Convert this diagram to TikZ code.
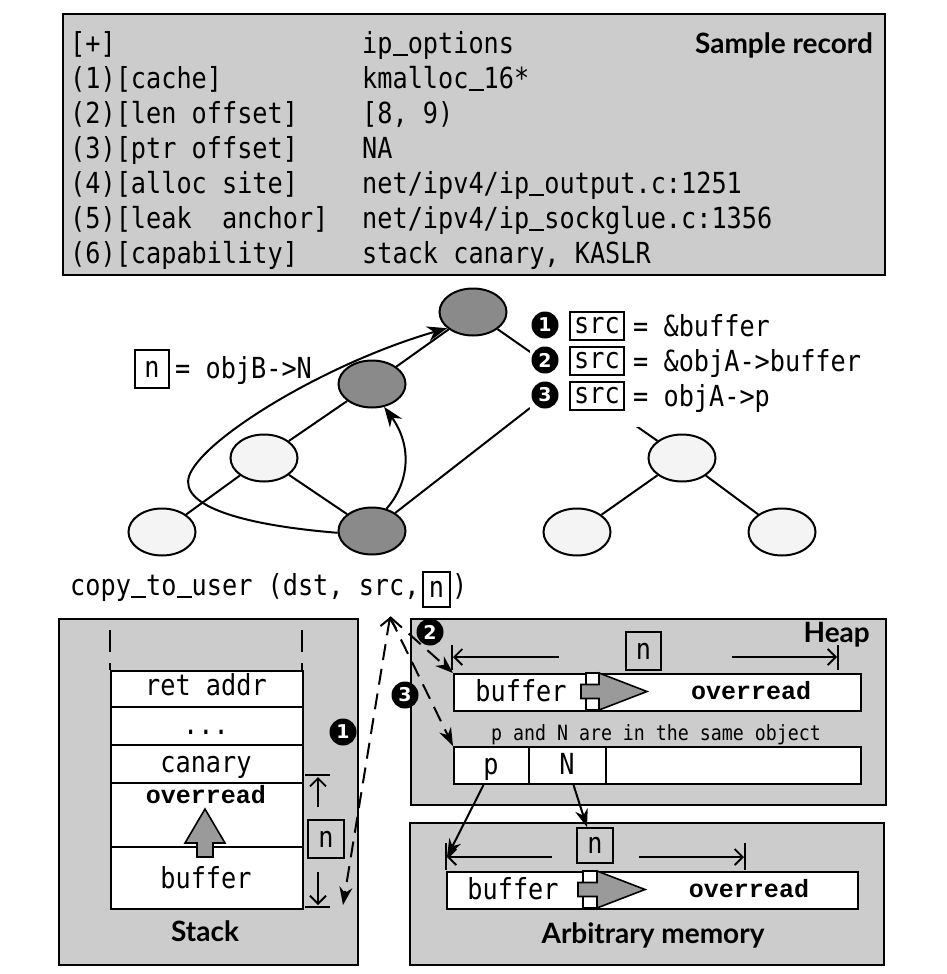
\documentclass[tikz,border=0pt]{standalone}
\usepackage{fontspec}
\usetikzlibrary{arrows.meta,shapes.geometric}
\newfontfamily\monoFam[FakeStretch=0.87]{DejaVu Sans Mono}
\newfontfamily\cmonoFam{Liberation Mono}
\newfontfamily\titleFam{Lato}
\newfontfamily\numFam{DejaVu Sans}
\def\myMono{\monoFam\fontsize{29}{35}\selectfont}
\def\mySmallMono{\monoFam\fontsize{21}{25}\selectfont}
\def\myBold{\cmonoFam\bfseries\fontsize{25}{30}\selectfont}
\def\myTitle{\titleFam\bfseries\fontsize{28}{32}\selectfont}
\def\myNum{\numFam\bfseries\fontsize{19}{19}\selectfont}
\def\us{\rule[-2.5pt]{15.19pt}{1.8pt}}
\definecolor{panel}{HTML}{CCCCCC}
\definecolor{darknode}{HTML}{8A8A8A}
\definecolor{lightnode}{HTML}{F4F4F4}
\definecolor{fatarrow}{HTML}{9A9A9A}
\begin{document}
\begin{tikzpicture}[x=1pt,y=-1pt,
  panelbox/.style={draw=black, line width=2.4pt, fill=panel},
  cellbox/.style={draw=black, line width=2pt, fill=white, inner sep=0pt, anchor=north west},
  nbox/.style={draw=black, line width=1.8pt, inner sep=0pt, minimum width=34pt, minimum height=38pt, font=\myMono},
  darkn/.style={ellipse, draw=black, line width=2pt, fill=darknode, minimum width=67pt, minimum height=47pt, inner sep=0pt},
  lightn/.style={ellipse, draw=black, line width=2pt, fill=lightnode, minimum width=67pt, minimum height=47pt, inner sep=0pt},
  edge/.style={line width=2pt},
  curvarrow/.style={line width=2pt, -{Stealth[length=20pt,width=15pt]}},
  dimarrow/.style={line width=1.8pt, -{Straight Barb[length=8pt,width=16pt]}},
  tickline/.style={line width=1.8pt},
  dashline/.style={line width=2pt, dash pattern=on 16pt off 9pt},
  numc/.style={circle, fill=black, text=white, inner sep=0pt, minimum size=27pt, font=\myNum},
  mtext/.style={font=\myMono, inner sep=0pt},
  btext/.style={font=\myBold, inner sep=0pt},
  ttext/.style={font=\myTitle, inner sep=0pt},
  fatarr/.style={fill=fatarrow, draw=black, line width=1.6pt, line join=miter}
]
\useasboundingbox (0,0) rectangle (946,974);
\fill[white] (0,0) rectangle (946,974);

% ---------- top record box ----------
\draw[panelbox] (63,14) rectangle (885,275);
\node[mtext, anchor=base west] (r0a) at (70,53.5) {[+]};
\node[mtext, anchor=base west] (r0b) at (362,53.5) {ip\us{}options};
\node[ttext, anchor=base east] (rtitle) at (873,53.5) {Sample record};
\node[mtext, anchor=base west] (r1a) at (70,88.5) {(1)[cache]};
\node[mtext, anchor=base west] (r1b) at (362,88.5) {kmalloc\us{}16*};
\node[mtext, anchor=base west] (r2a) at (70,123.5) {(2)[len offset]};
\node[mtext, anchor=base west] (r2b) at (362,123.5) {[8, 9)};
\node[mtext, anchor=base west] (r3a) at (70,158.5) {(3)[ptr offset]};
\node[mtext, anchor=base west] (r3b) at (362,158.5) {NA};
\node[mtext, anchor=base west] (r4a) at (70,193.5) {(4)[alloc site]};
\node[mtext, anchor=base west] (r4b) at (362,193.5) {net/ipv4/ip\us{}output.c:1251};
\node[mtext, anchor=base west] (r5a) at (70,228.5) {(5)[leak\ \ anchor]};
\node[mtext, anchor=base west] (r5b) at (362,228.5) {net/ipv4/ip\us{}sockglue.c:1356};
\node[mtext, anchor=base west] (r6a) at (70,263.5) {(6)[capability]};
\node[mtext, anchor=base west] (r6b) at (362,263.5) {stack canary, KASLR};

% ---------- graph ----------
\coordinate (hid) at (530,408);
\node[darkn] (tn) at (473,312) {};
\node[darkn] (md) at (372,384) {};
\node[lightn] (ml) at (264,458) {};
\node[lightn] (bl) at (162,532) {};
\node[darkn] (bd) at (372,531) {};
\node[lightn] (rr) at (682,458) {};
\node[lightn] (rl) at (577,532) {};
\node[lightn] (rrr) at (782,532) {};
\draw[edge] (bl) -- (ml);
\draw[edge] (ml) -- (md);
\draw[edge] (md) -- (tn);
\draw[edge] (ml) -- (bd);
\draw[edge] (bd) -- (hid);
\draw[edge] (tn) -- (rr);
\draw[edge] (rr) -- (rl);
\draw[edge] (rr) -- (rrr);
\fill[white] (530,290) rectangle (917,427);

\draw[curvarrow] (bd.183) .. controls (230,524) and (172,502) .. (192,470)
   .. controls (214,432) and (330,362) .. (tn.212);
\draw[curvarrow] (bd.57) .. controls (410,482) and (412,445) .. (md.-62);

\node[nbox] (nlab) at (152,369) {n};
\node[mtext, anchor=base west] (nlabt) at (175,378) {= objB->N};

\node[numc] (c1) at (545,325) {1};
\node[nbox, minimum width=54pt, minimum height=28pt] (s1) at (597,326) {src};
\node[mtext, anchor=base west] (t1) at (633,336) {= \&buffer};
\node[numc] (c2) at (545,360) {2};
\node[nbox, minimum width=54pt, minimum height=28pt] (s2) at (597,361) {src};
\node[mtext, anchor=base west] (t2) at (633,371) {= \&objA->buffer};
\node[numc] (c3) at (545,395) {3};
\node[nbox, minimum width=54pt, minimum height=28pt] (s3) at (597,396) {src};
\node[mtext, anchor=base west] (t3) at (633,406) {= objA->p};

\node[mtext, anchor=base west] (cpy) at (70,595) {copy\us{}to\us{}user (dst, src,};
\node[nbox, minimum width=27pt, minimum height=35pt] (cpyn) at (436.5,589.5) {n};
\node[mtext, anchor=base west] (cpyc) at (452,595) {)};

% ---------- stack ----------
\draw[panelbox] (59,619) rectangle (358,965);
\draw[line width=2pt, dash pattern=on 22pt off 11pt] (110,630) -- (110,670);
\draw[line width=2pt, dash pattern=on 22pt off 11pt] (302,630) -- (302,670);
\node[cellbox, minimum width=192pt, minimum height=36pt] (sret) at (110,670) {};
\node[cellbox, minimum width=192pt, minimum height=38pt] (sdot) at (110,706) {};
\node[cellbox, minimum width=192pt, minimum height=38pt] (scan) at (110,744) {};
\node[cellbox, minimum width=192pt, minimum height=64pt] (sover) at (110,782) {};
\node[cellbox, minimum width=192pt, minimum height=62pt] (sbuf) at (110,846) {};
\node[mtext, anchor=base] (tret) at (206,695) {ret addr};
\node[mtext, anchor=base] (tdot) at (206,734) {...};
\node[mtext, anchor=base] (tcan) at (206,772) {canary};
\node[btext, anchor=base] (tover) at (206,803) {overread};
\node[mtext, anchor=base] (tbuf) at (206,888) {buffer};
\draw[fatarr] (197,857) -- (197,843) -- (185,843) -- (205,809) -- (225,843) -- (213,843) -- (213,857) -- cycle;
\draw[tickline] (305,775) -- (330,775);
\draw[tickline] (305,907) -- (330,907);
\coordinate (sdu0) at (318,807);
\coordinate (sdu1) at (318,777);
\coordinate (sdd0) at (318,872);
\coordinate (sdd1) at (318,905);
\draw[dimarrow] (sdu0) -- (sdu1);
\draw[dimarrow] (sdd0) -- (sdd1);
\node[nbox, minimum width=36pt] (sn) at (326,839) {n};
\node[ttext, anchor=base] (stitle) at (205,941) {Stack};

% ---------- heap ----------
\draw[panelbox] (411,619) rectangle (886,805);
\node[ttext, anchor=base east] (htitle) at (870,642) {Heap};
\draw[tickline] (452,645) -- (452,670);
\draw[tickline] (838,645) -- (838,670);
\coordinate (hl0) at (559,657);
\coordinate (hl1) at (453,657);
\coordinate (hr0) at (732,657);
\coordinate (hr1) at (837,657);
\draw[dimarrow] (hl0) -- (hl1);
\draw[dimarrow] (hr0) -- (hr1);
\node[nbox, minimum width=35pt] (hn) at (643.5,651) {n};
\node[cellbox, minimum width=407pt, minimum height=37pt] (hbuf) at (453,673) {};
\node[mtext] (hbuft) at (521,691) {buffer};
\draw[line width=1.6pt, fill=white] (586,673) rectangle (599,710);
\draw[fatarr] (581,684.5) -- (599,684.5) -- (599,673) -- (647,691.5) -- (599,710) -- (599,698.5) -- (581,698.5) -- cycle;
\node[btext] (hovt) at (751,691) {overread};
\node[font=\mySmallMono, inner sep=0pt, anchor=base] (same) at (656,740) {p and N are in the same object};
\node[cellbox, minimum width=75pt, minimum height=37pt] (pcell) at (453,746) {};
\node[cellbox, minimum width=77pt, minimum height=37pt] (ncell) at (528,746) {};
\node[cellbox, minimum width=255pt, minimum height=37pt] (rcell) at (605,746) {};
\node[mtext, anchor=base] (pt) at (491,774) {p};
\node[mtext, anchor=base] (nt) at (567,774) {N};

% ---------- arbitrary memory ----------
\draw[panelbox] (410,823) rectangle (884,965);
\node[nbox, minimum width=36pt, minimum height=35pt] (an) at (595,845.5) {n};
\draw[tickline] (446,843) -- (446,870);
\draw[tickline] (745,843) -- (745,870);
\coordinate (al0) at (552,857);
\coordinate (atl) at (447,857);
\coordinate (ar0) at (639,857);
\coordinate (ar1) at (744,857);
\draw[dimarrow] (al0) -- (atl);
\draw[dimarrow] (ar0) -- (ar1);
\node[cellbox, minimum width=411pt, minimum height=37pt] (abuf) at (446,871) {};
\node[mtext] (abuft) at (513,889) {buffer};
\draw[line width=1.6pt, fill=white] (583,871) rectangle (597,908);
\draw[fatarr] (578,882.5) -- (597,882.5) -- (597,871) -- (645,889.5) -- (597,908) -- (597,896.5) -- (578,896.5) -- cycle;
\node[btext] (aovt) at (749,889) {overread};
\node[ttext, anchor=base] (atitle) at (653,943) {Arbitrary memory};

% ---------- pointer arrows ----------
\draw[line width=2pt, -{Stealth[length=18pt,width=13pt]}] ([xshift=-8pt]pcell.south) -- (atl);
\draw[line width=2pt, -{Stealth[length=18pt,width=13pt]}] ([xshift=6pt]ncell.south) -- ([xshift=-8pt]an.north);

% ---------- dashed src arrows ----------
\coordinate (apex) at (390,617);
\coordinate (s1end) at (343,905);
\draw[dashline, {Straight Barb[length=9pt,width=16pt]}-{Stealth[length=18pt,width=13pt]}] (apex) -- (s1end);
\draw[dashline, -{Stealth[length=18pt,width=13pt]}] (apex) -- (hbuf.north west);
\draw[dashline, -{Stealth[length=18pt,width=13pt]}] (apex) -- (pcell.north west);
\node[numc] (d1) at (343,732) {1};
\node[numc] (d2) at (430,632) {2};
\node[numc] (d3) at (405,695) {3};
\end{tikzpicture}
\end{document}
